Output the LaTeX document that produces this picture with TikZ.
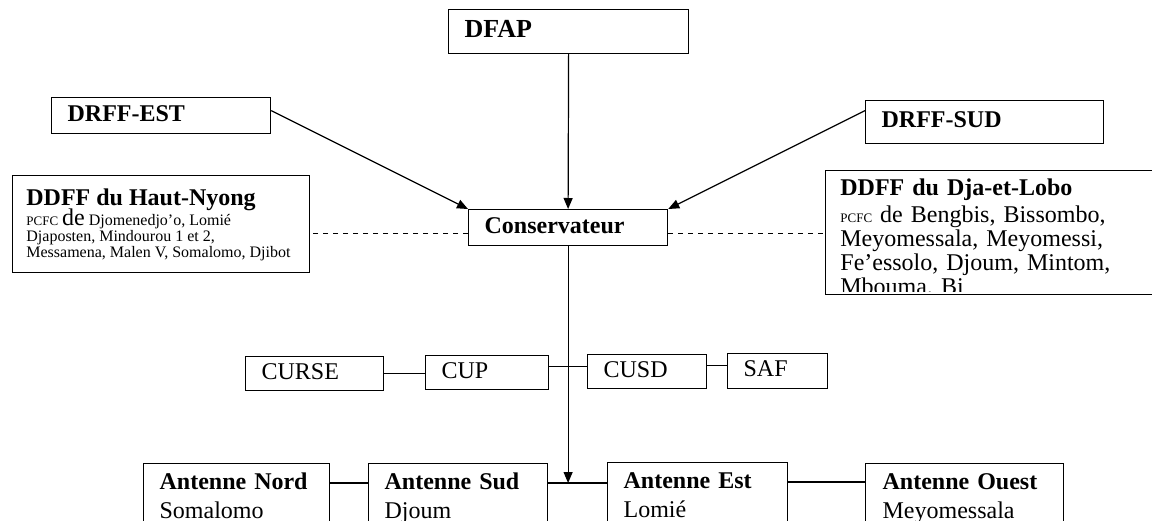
\documentclass[tikz,border=0pt]{standalone}
\usepackage{fontspec}
\setmainfont{Liberation Serif}
\usetikzlibrary{arrows.meta}
\newcommand\tightlines{\lineskiplimit=-20pt\relax}
\tikzset{
  box/.style={draw, line width=0.6pt, anchor=north west, inner xsep=8pt, inner ysep=0pt, align=left,
    font=\fontsize{12}{14.5}\selectfont, execute at begin node=\strut, execute at end node=\strut},
  head/.style={box, font=\fontsize{12}{14.5}\selectfont\bfseries},
  frame/.style={draw, line width=0.6pt, anchor=north west},
  inside/.style={anchor=base west, inner sep=0pt, align=left},
  small/.style={inside, font=\fontsize{8}{9}\selectfont},
  arr/.style={line width=0.6pt, -{Triangle[length=5.5pt,width=4.5pt]}},
  link/.style={line width=0.6pt},
  dashline/.style={line width=0.5pt, dash pattern=on 2.5pt off 2.5pt}
}

\begin{document}
\begin{tikzpicture}[x=0.5pt, y=-0.5pt]
        \useasboundingbox (0,0) rectangle (1152,520);
        \clip (0,0) rectangle (1152,520);
        \fill[white] (0,0) rectangle (1152,520);
        \node[head, minimum width=120pt, minimum height=22pt, text width=104pt, font=\fontsize{13}{14.5}\selectfont\bfseries] (dfap) at (448,9) {DFAP};
        \node[head, minimum width=109.5pt, minimum height=18pt, text width=93.5pt] (drffest) at (51,97) {DRFF-EST};
        \node[head, minimum width=119pt, minimum height=21.5pt, text width=103pt] (drffsud) at (865,100) {DRFF-SUD};
        \node[head, minimum width=99.5pt, minimum height=18pt, text width=83.5pt] (cons) at (468,209) {Conservateur};
        \node[frame, minimum width=148.5pt, minimum height=48.5pt] (ddffhn) at (12,175) {};
        \node[inside, font=\fontsize{12}{14}\selectfont\bfseries] (hntitle) at (26,205) {DDFF du Haut-Nyong};
        \node[small] (hnline1) at (26,225) {{\fontsize{6.5}{8}\selectfont PCFC} {\fontsize{12}{14}\selectfont de} Djomenedjo’o, Lomié};
        \node[small] (hnline2) at (26,241) {Djaposten, Mindourou 1 et 2,};
        \node[small] (hnline3) at (26,257) {Messamena, Malen V, Somalomo, Djibot};
        \node[frame, minimum width=170pt, minimum height=62pt] (ddffdl) at (825,170) {};
        \begin{scope}
          \clip (ddffdl.north west) rectangle ([yshift=2pt]ddffdl.south east);
          \node[inside, text width=140pt, font=\fontsize{12}{12}\selectfont\tightlines] (ddffdltext) at (840,195)
            {\textbf{DDFF du Dja-et-Lobo}\\[1.5pt]
             {\fontsize{6.5}{8}\selectfont PCFC} de Bengbis, Bissombo,\\
             Meyomessala, Meyomessi,\\
             Fe’essolo, Djoum, Mintom,\\
             Mbouma, Bi};
        \end{scope}
        \node[box, minimum width=69pt, minimum height=17pt, text width=53pt] (curse) at (245,356) {CURSE};
        \node[box, minimum width=61.5pt, minimum height=17pt, text width=45.5pt] (cup) at (425,355) {CUP};
        \node[box, minimum width=59.5pt, minimum height=17pt, text width=43.5pt] (cusd) at (587,354) {CUSD};
        \node[box, minimum width=50pt, minimum height=17.5pt, text width=34pt] (saf) at (727,353) {SAF};
        \node[box, minimum width=93pt, minimum height=35pt, text width=77pt] (nord) at (143,463) {\textbf{Antenne Nord}\\Somalomo};
        \node[box, minimum width=89.5pt, minimum height=35pt, text width=73.5pt] (sud) at (368,463) {\textbf{Antenne Sud}\\Djoum};
        \node[box, minimum width=90pt, minimum height=35pt, text width=74pt] (est) at (607,462) {\textbf{Antenne Est}\\Lomié};
        \node[box, minimum width=99pt, minimum height=35pt, inner xsep=8.5pt, text width=82pt] (ouest) at (865,463) {\textbf{Antenne Ouest}\\Meyomessala};
        \draw[arr] (dfap.south) -- (cons.north);
        \draw[arr] ([yshift=2.5pt]drffest.east) -- (cons.north west);
        \draw[arr] ([yshift=5.75pt]drffsud.west) -- (cons.north east);
        \coordinate (consleft) at ([yshift=-3pt]cons.west);
        \coordinate (consright) at ([yshift=-3pt]cons.east);
        \draw[dashline] (consleft) -- (consleft -| ddffhn.east);
        \draw[dashline] (consright) -- (consright -| ddffdl.west);
        \draw[link] (curse.east) -- (curse.east -| cup.west);
        \coordinate (cuplink) at ([yshift=3pt]cup.east);
        \draw[link] (cuplink) -- (cuplink -| cusd.west);
        \coordinate (cusdlink) at ([yshift=3pt]cusd.east);
        \draw[link] (cusdlink) -- (cusdlink -| saf.west);
        \coordinate (nordlink) at ([yshift=-10pt]nord.north east);
        \draw[link] (nordlink) -- (nordlink -| sud.west);
        \coordinate (sudlink) at ([yshift=-10pt]sud.north east);
        \draw[link] (sudlink) -- (sudlink -| est.west);
        \coordinate (estlink) at ([yshift=-10pt]est.north east);
        \draw[link] (estlink) -- (estlink -| ouest.west);
        \draw[arr] (cons.south) -- (cons.south |- sudlink);
      \end{tikzpicture}
\end{document}
